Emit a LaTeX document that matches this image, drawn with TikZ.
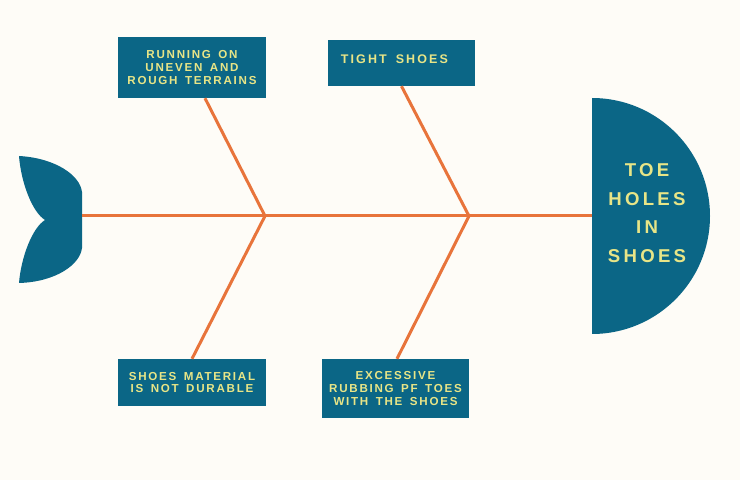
\documentclass[tikz,border=0pt]{standalone}
\usepackage{fontspec}
\usepackage{xcolor}
\usetikzlibrary{
  arrows.meta,
  positioning,
  calc,
}
\newfontfamily\fishfont[LetterSpace=15, WordSpace=1.5]{Liberation Sans}
\newfontfamily\fishwidefont[LetterSpace=17, WordSpace=1.6]{Liberation Sans}
\newfontfamily\fishheadfont[LetterSpace=17.5]{Liberation Sans}
\definecolor{fishblue}{RGB}{11,102,134}
\definecolor{boneorange}{RGB}{232,116,59}
\definecolor{labelyellow}{RGB}{232,229,135}
\definecolor{paperbg}{RGB}{254,252,247}
\tikzset{
  causebox/.style={
    rectangle, fill=fishblue, text=labelyellow,
    font=\fishfont\bfseries\fontsize{11.6}{12.8}\selectfont,
    align=center, inner sep=2pt
  },
  bone/.style={line width=3pt, boneorange},
  headtext/.style={
    text=labelyellow, align=center,
    font=\fishheadfont\bfseries\fontsize{18.6}{28.4}\selectfont
  },
}

\begin{document}
\begin{tikzpicture}[x=1pt, y=1pt]

  % ── Background ──
  \fill[paperbg] (0,0) rectangle (740,480);
  \useasboundingbox (0,0) rectangle (740,480);

  % ── Tail ──
  \fill[fishblue] (19,324) .. controls (55,322) and (80,305) .. (82,288)
    -- (82,232) .. controls (80,215) and (55,198) .. (19,197)
    .. controls (21,222) and (32,252) .. (45,260)
    .. controls (32,268) and (21,298) .. (19,324) -- cycle;
  \coordinate (tail) at (82,264);

  % ── Head ──
  \fill[fishblue] (592,382) arc[start angle=90, end angle=-90, radius=118] -- cycle;
  \coordinate (head) at (592,264);
  \node[headtext] (effect) at (647,267) {TOE\\HOLES\\IN\\SHOES};

  % ── Joints on the spine ──
  \coordinate (j1) at (265,264);
  \coordinate (j2) at (469,264);

  % ── Cause boxes ──
  \node[causebox, minimum width=148pt, minimum height=61pt] (c1) at (192,412.5)
    {RUNNING ON\\UNEVEN AND\\ROUGH TERRAINS};
  \node[causebox, minimum width=147pt, minimum height=46pt,
        label={[anchor=west, xshift=9.5pt, yshift=4pt, text=labelyellow,
                font=\fishwidefont\bfseries\fontsize{12.5}{14}\selectfont]west:TIGHT SHOES}]
    (c2) at (401.5,417) {};
  \node[causebox, minimum width=148pt, minimum height=47pt] (c3) at (192,97.5)
    {SHOES MATERIAL\\IS NOT DURABLE};
  \node[causebox, minimum width=147pt, minimum height=59pt] (c4) at (395.5,91.5)
    {EXCESSIVE\\RUBBING PF TOES\\WITH THE SHOES};

  % ── Spine ──
  \draw[bone] (tail) -- (head);

  % ── Bones ──
  \draw[bone] (j1) -- ([xshift=13pt]c1.south);
  \draw[bone] (j2) -- (c2.south);
  \draw[bone] (j1) -- (c3.north);
  \draw[bone] (j2) -- ([xshift=1.5pt]c4.north);

\end{tikzpicture}
\end{document}
